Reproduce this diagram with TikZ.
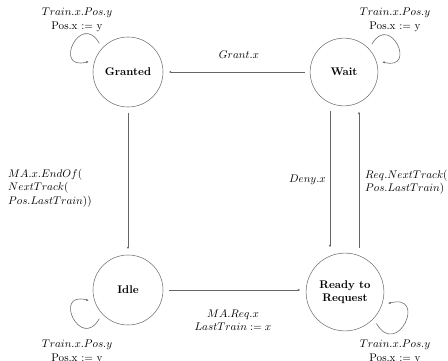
\documentclass[tikz,border=0pt]{standalone}
\usetikzlibrary{arrows.meta}
\begin{document}
\begin{tikzpicture}[x=0.9pt,y=0.9pt,
  state/.style={circle,draw=black!55,line width=0.5pt,minimum size=63pt,inner sep=0pt,outer sep=5pt,font=\bfseries,align=center},
  arr/.style={draw=black!60,line width=0.5pt,-{Latex[length=2.4pt,width=2pt]}},
  lbl/.style={inner sep=0pt,align=center},
  loopy/.style={arr,looseness=4.6}]
\useasboundingbox (0,0) rectangle (448,360);
\node[state] (g) at (128,288) {Granted};
\node[state,minimum size=61pt] (w) at (344,288) {Wait};
\node[state] (i) at (128,70) {Idle};
\node[state,minimum size=70pt] (r) at (345,68) {Ready to\\Request};
% transitions
\draw[arr] (w) -- (g);
\draw[arr] (g) -- (i);
\draw[arr] (i.east) -- (i.east -| r.west);
\draw[arr] ([xshift=-12.6pt]w.south) -- ([xshift=-12.6pt]w.south |- r.north);
\draw[arr] ([xshift=12.6pt]r.north) -- ([xshift=12.6pt]r.north |- w.south);
% self loops
\draw[loopy] (g.135) to[out=120,in=195] (g.165);
\draw[loopy] (w.45) to[out=60,in=-15] (w.15);
\draw[loopy] (i.225) to[out=240,in=165] (i.195);
\draw[loopy] (r.-45) to[out=-60,in=15] (r.-15);
% labels
\node[lbl,anchor=north] (gl) at (77,352) {$Train.x.Pos.y$\\Pos.x := y};
\node[lbl,anchor=north] (wl) at (395,352) {$Train.x.Pos.y$\\Pos.x := y};
\node[lbl,anchor=north] (il) at (77,20) {$Train.x.Pos.y$\\Pos.x := y};
\node[lbl,anchor=north] (rl) at (395,20) {$Train.x.Pos.y$\\Pos.x := y};
\node[lbl] (gx) at (239,305) {$Grant.x$};
\node[lbl,anchor=west,align=left] (eo) at (8,172) {$MA.x.EndOf($\\$NextTrack($\\$Pos.LastTrain))$};
\node[lbl,anchor=east] (dx) at (326,180) {$Deny.x$};
\node[lbl,anchor=west,align=left] (rq) at (365,178) {$Req.NextTrack($\\$Pos.LastTrain)$};
\node[lbl] (mr) at (233,40) {$MA.Req.x$\\$LastTrain := x$};
\end{tikzpicture}
\end{document}
